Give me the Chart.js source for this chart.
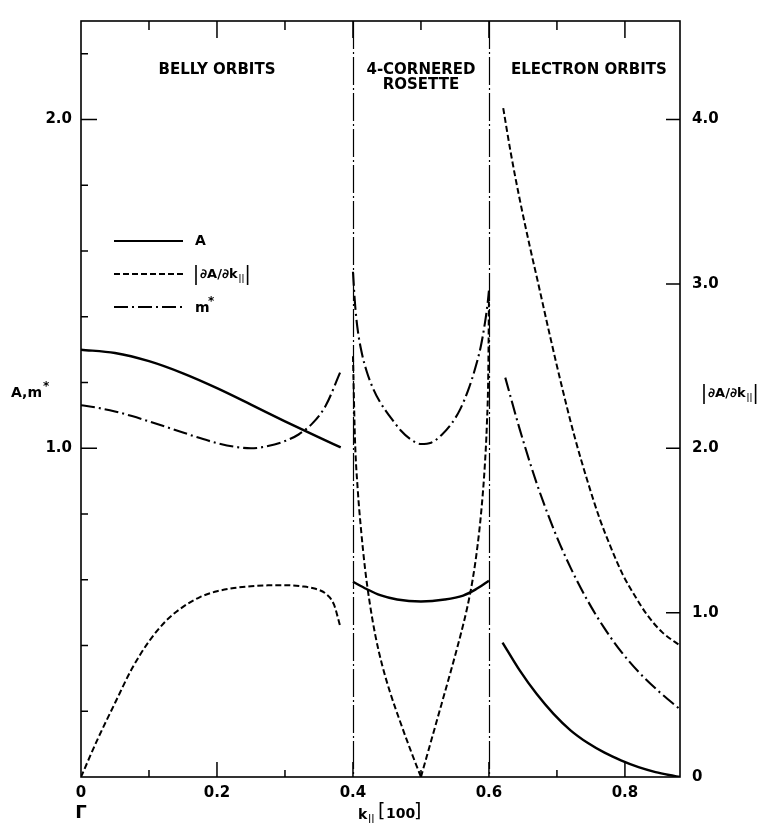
<!DOCTYPE html>
<html>
<head>
<meta charset="utf-8">
<script src="https://cdn.jsdelivr.net/npm/chart.js@4.4.1/dist/chart.umd.min.js"></script>
<style>
  body { margin: 0; background: #fff; }
  canvas { display: block; }
</style>
</head>
<body>
<canvas id="orbitChart" width="766" height="827"></canvas>
<script>
// k along [100]; A and m* on the left axis, |dA/dk| on the right axis
const kBellyArea = [0, 0.05, 0.1, 0.15, 0.2, 0.25, 0.3, 0.35, 0.382];
const areaBelly  = [1.30, 1.29, 1.265, 1.228, 1.183, 1.133, 1.082, 1.033, 1.003];

const kBellyMass = [0, 0.025, 0.05, 0.075, 0.1, 0.125, 0.15, 0.175, 0.2, 0.225, 0.25, 0.275, 0.3, 0.32, 0.34, 0.36, 0.381];
const massBelly  = [1.131, 1.123, 1.112, 1.098, 1.082, 1.065, 1.048, 1.031, 1.016, 1.005, 1.0, 1.007, 1.022, 1.042, 1.075, 1.13, 1.23];

const kBellySlope = [0, 0.025, 0.05, 0.075, 0.1, 0.125, 0.15, 0.175, 0.2, 0.225, 0.25, 0.275, 0.3, 0.325, 0.345, 0.36, 0.372, 0.381];
const slopeBelly  = [0, 0.235, 0.45, 0.66, 0.825, 0.95, 1.035, 1.095, 1.13, 1.15, 1.161, 1.166, 1.167, 1.16, 1.145, 1.115, 1.05, 0.92];

const kRosetteArea = [0.4, 0.42, 0.44, 0.465, 0.5, 0.535, 0.562, 0.58, 0.6];
const areaRosette  = [0.594, 0.572, 0.553, 0.54, 0.534, 0.54, 0.552, 0.57, 0.597];

const kRosetteMass = [0.4, 0.403, 0.407, 0.413, 0.42, 0.43, 0.44, 0.455, 0.47, 0.485, 0.5, 0.515, 0.53, 0.545, 0.558, 0.57, 0.58, 0.588, 0.594, 0.598, 0.6];
const massRosette  = [1.537, 1.44, 1.36, 1.29, 1.235, 1.18, 1.14, 1.095, 1.055, 1.027, 1.013, 1.017, 1.04, 1.075, 1.12, 1.18, 1.245, 1.31, 1.38, 1.44, 1.48];

const kRosetteSlopeL = [0.4, 0.403, 0.407, 0.412, 0.418, 0.425, 0.433, 0.443, 0.455, 0.47, 0.485, 0.5];
const slopeRosetteL  = [2.56, 2.05, 1.75, 1.5, 1.26, 1.05, 0.86, 0.68, 0.51, 0.33, 0.16, 0];
const kRosetteSlopeR = [0.5, 0.515, 0.53, 0.545, 0.558, 0.568, 0.576, 0.583, 0.589, 0.594, 0.597, 0.599, 0.6];
const slopeRosetteR  = [0, 0.22, 0.44, 0.66, 0.86, 1.03, 1.2, 1.4, 1.63, 1.9, 2.15, 2.45, 2.9];

const kElecArea = [0.62, 0.645, 0.67, 0.695, 0.72, 0.745, 0.77, 0.795, 0.82, 0.845, 0.865, 0.881];
const areaElec  = [0.409, 0.325, 0.253, 0.192, 0.142, 0.104, 0.074, 0.05, 0.03, 0.015, 0.006, 0];

const kElecMass = [0.624, 0.645, 0.67, 0.695, 0.72, 0.745, 0.77, 0.795, 0.82, 0.85, 0.881];
const massElec  = [1.215, 1.06, 0.895, 0.755, 0.637, 0.537, 0.452, 0.38, 0.32, 0.26, 0.206];

const kElecSlope = [0.621, 0.632, 0.645, 0.66, 0.671, 0.69, 0.707, 0.726, 0.745, 0.763, 0.78, 0.797, 0.815, 0.832, 0.855, 0.881];
const slopeElec  = [4.07, 3.80, 3.52, 3.23, 3.03, 2.68, 2.38, 2.07, 1.80, 1.57, 1.39, 1.23, 1.10, 0.99, 0.88, 0.80];

const xTickLabels = { 0: '0', 0.2: '0.2', 0.4: '0.4', 0.6: '0.6', 0.8: '0.8' };
const leftTickLabels = { 1: '1.0', 2: '2.0' };
const rightTickLabels = { 0: '0', 1: '1.0', 2: '2.0', 3: '3.0', 4: '4.0' };
const zoneEdges = [0.4, 0.6];

const FONT = 'DejaVu Sans';
const DASH = [6, 3];
const DASH_DOT = [14, 4, 2, 4];

function pts(xs, ys) {
    return xs.map((x, i) => ({ x: x, y: ys[i] }));
}

function lookup(table, v) {
    for (const key in table) {
        if (Math.abs(Number(key) - v) < 1e-6) return table[key];
    }
    return '';
}

function curve(xs, ys, dash, width, axis) {
    return {
        data: pts(xs, ys),
        yAxisID: axis,
        borderColor: '#000',
        borderWidth: width,
        borderDash: dash,
        pointRadius: 0,
        fill: false,
        cubicInterpolationMode: 'monotone'
    };
}

// frame, inward tick marks, zone edges, labels and key
const decorations = {
    id: 'decorations',
    beforeDraw(chart) {
        const ctx = chart.ctx;
        ctx.save();
        ctx.fillStyle = '#fff';
        ctx.fillRect(0, 0, chart.width, chart.height);
        ctx.restore();
    },
    afterDraw(chart) {
        const ctx = chart.ctx;
        const a = chart.chartArea;
        const xs = chart.scales.x, yl = chart.scales.y, yr = chart.scales.y2;
        ctx.save();
        ctx.strokeStyle = '#000';
        ctx.fillStyle = '#000';

        ctx.lineWidth = 1.6;
        ctx.strokeRect(a.left, a.top, a.right - a.left, a.bottom - a.top);

        // zone edges
        ctx.lineWidth = 1.2;
        ctx.setLineDash([28, 3, 2, 3]);
        zoneEdges.forEach(k => {
            const px = Math.round(xs.getPixelForValue(k)) + 0.5;
            ctx.beginPath();
            ctx.moveTo(px, a.top);
            ctx.lineTo(px, a.bottom);
            ctx.stroke();
        });
        ctx.setLineDash([]);

        ctx.lineWidth = 1.5;
        ctx.beginPath();
        xs.ticks.forEach(t => {
            const v = t.value;
            if (v <= 1e-6 || v >= xs.max - 1e-6) return;
            const px = xs.getPixelForValue(v);
            const len = lookup(xTickLabels, v) ? 15 : 7;
            ctx.moveTo(px, a.bottom);
            ctx.lineTo(px, a.bottom - len);
            ctx.moveTo(px, a.top);
            ctx.lineTo(px, a.top + len + 2);
        });
        yl.ticks.forEach(t => {
            const v = t.value;
            if (v <= 1e-6 || v >= yl.max - 1e-6) return;
            const py = yl.getPixelForValue(v);
            const len = lookup(leftTickLabels, v) ? 16 : 7;
            ctx.moveTo(a.left, py);
            ctx.lineTo(a.left + len, py);
        });
        yr.ticks.forEach(t => {
            const v = t.value;
            if (v <= 1e-6 || v >= yr.max - 1e-6) return;
            const py = yr.getPixelForValue(v);
            ctx.moveTo(a.right, py);
            ctx.lineTo(a.right - 14, py);
        });
        ctx.stroke();

        // zone names
        ctx.font = 'bold 15px ' + FONT;
        ctx.textAlign = 'center';
        ctx.textBaseline = 'middle';
        ctx.fillText('BELLY ORBITS', xs.getPixelForValue(0.2), 70);
        ctx.fillText('4-CORNERED', xs.getPixelForValue(0.5), 70);
        ctx.fillText('ROSETTE', xs.getPixelForValue(0.5), 85);
        ctx.fillText('ELECTRON ORBITS', xs.getPixelForValue(0.747), 70);

        // key
        const keyRows = [
            { y: 241, dash: [], width: 2.2 },
            { y: 274, dash: DASH, width: 2 },
            { y: 307, dash: DASH_DOT, width: 2 }
        ];
        keyRows.forEach(r => {
            ctx.lineWidth = r.width;
            ctx.setLineDash(r.dash);
            ctx.beginPath();
            ctx.moveTo(114, r.y);
            ctx.lineTo(183, r.y);
            ctx.stroke();
        });
        ctx.setLineDash([]);
        ctx.textAlign = 'left';
        ctx.font = 'bold 14px ' + FONT;
        ctx.fillText('A', 195, 241);
        drawSlopeLabel(ctx, 195, 275);
        ctx.font = 'bold 14px ' + FONT;
        ctx.fillText('m', 195, 308);
        ctx.font = 'bold 12px ' + FONT;
        ctx.fillText('*', 208, 302);

        // axis titles
        ctx.font = 'bold 14px ' + FONT;
        ctx.fillText('A,m', 11, 393);
        ctx.font = 'bold 12px ' + FONT;
        ctx.fillText('*', 43, 387);
        drawSlopeLabel(ctx, 703, 394);

        ctx.font = 'bold 18px ' + FONT;
        ctx.textAlign = 'center';
        ctx.fillText('\u0393', xs.getPixelForValue(0), 813);
        ctx.textAlign = 'left';
        ctx.font = 'bold 14px ' + FONT;
        ctx.fillText('k', 358, 815);
        ctx.font = 'bold 9px ' + FONT;
        ctx.fillText('||', 368, 819);
        ctx.font = '19px ' + FONT;
        ctx.fillText('[', 378, 812);
        ctx.font = 'bold 14px ' + FONT;
        ctx.fillText('100', 386, 814);
        ctx.font = '19px ' + FONT;
        ctx.fillText(']', 414, 812);
        ctx.restore();
    }
};

// |dA/dk||
function drawSlopeLabel(ctx, x, y) {
    ctx.save();
    ctx.textAlign = 'left';
    ctx.textBaseline = 'middle';
    ctx.lineWidth = 1.6;
    ctx.beginPath();
    ctx.moveTo(x + 1, y - 10);
    ctx.lineTo(x + 1, y + 10);
    ctx.stroke();
    ctx.font = 'bold 13px ' + FONT;
    ctx.fillText('\u2202A/\u2202k', x + 5, y);
    const w = ctx.measureText('\u2202A/\u2202k').width;
    ctx.font = 'bold 8px ' + FONT;
    ctx.fillText('||', x + 6 + w, y + 4);
    ctx.beginPath();
    ctx.moveTo(x + 15 + w, y - 10);
    ctx.lineTo(x + 15 + w, y + 10);
    ctx.stroke();
    ctx.restore();
}

const tickFont = { family: FONT, size: 15, weight: 'bold' };

new Chart(document.getElementById('orbitChart'), {
    type: 'line',
    data: {
        datasets: [
            curve(kBellyArea, areaBelly, [], 2.4, 'y'),
            curve(kRosetteArea, areaRosette, [], 2.4, 'y'),
            curve(kElecArea, areaElec, [], 2.4, 'y'),
            curve(kBellyMass, massBelly, DASH_DOT, 2.1, 'y'),
            curve(kRosetteMass, massRosette, DASH_DOT, 2.1, 'y'),
            curve(kElecMass, massElec, DASH_DOT, 2.1, 'y'),
            curve(kBellySlope, slopeBelly, DASH, 2, 'y2'),
            curve(kRosetteSlopeL, slopeRosetteL, DASH, 2, 'y2'),
            curve(kRosetteSlopeR, slopeRosetteR, DASH, 2, 'y2'),
            curve(kElecSlope, slopeElec, DASH, 2, 'y2')
        ]
    },
    options: {
        responsive: false,
        animation: false,
        layout: { padding: { top: 7, left: 0, right: 0, bottom: 0 } },
        plugins: {
            legend: { display: false },
            tooltip: { enabled: false }
        },
        scales: {
            x: {
                type: 'linear',
                position: 'bottom',
                min: 0,
                max: 0.881,
                grid: { display: false, drawTicks: false },
                border: { display: false },
                ticks: {
                    stepSize: 0.1,
                    includeBounds: false,
                    autoSkip: false,
                    maxRotation: 0,
                    padding: 7,
                    color: '#000',
                    font: tickFont,
                    callback: v => lookup(xTickLabels, v)
                },
                afterFit: s => { s.height = 50; }
            },
            y: {
                type: 'linear',
                position: 'left',
                min: 0,
                max: 2.3,
                grid: { display: false, drawTicks: false },
                border: { display: false },
                ticks: {
                    stepSize: 0.2,
                    includeBounds: false,
                    autoSkip: false,
                    padding: 9,
                    color: '#000',
                    font: tickFont,
                    callback: v => lookup(leftTickLabels, v)
                },
                afterFit: s => { s.width = 81; }
            },
            y2: {
                type: 'linear',
                position: 'right',
                min: 0,
                max: 4.6,
                grid: { display: false, drawTicks: false },
                border: { display: false },
                ticks: {
                    stepSize: 1,
                    includeBounds: false,
                    autoSkip: false,
                    padding: 12,
                    color: '#000',
                    font: tickFont,
                    callback: v => lookup(rightTickLabels, v)
                },
                afterFit: s => { s.width = 86; }
            }
        }
    },
    plugins: [decorations]
});
</script>
</body>
</html>
